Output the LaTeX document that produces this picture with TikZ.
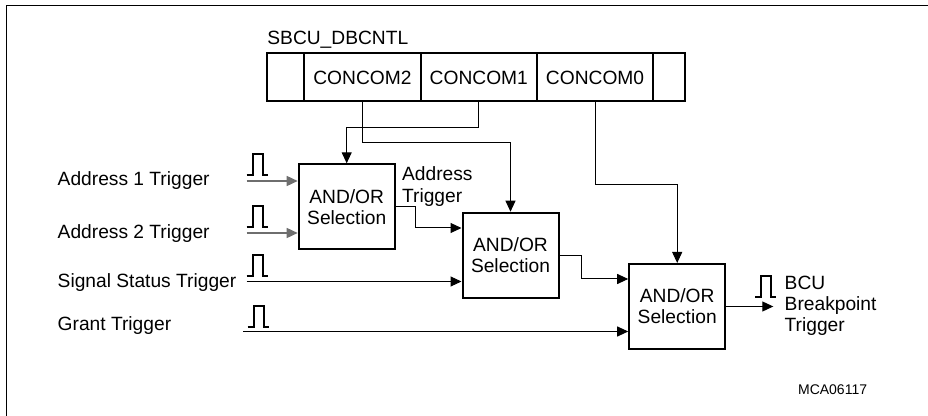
\documentclass[tikz,border=0pt]{standalone}
\usepackage{fontspec}
\setmainfont{Liberation Sans}
\usepackage{xcolor}
\usetikzlibrary{arrows.meta,positioning}
\definecolor{wiregray}{HTML}{6E6E6E}

\begin{document}
\begin{tikzpicture}[
        x=0.5pt, y=-0.5pt,
        font=\fontsize{9.6}{10.5}\selectfont,
        field/.style={
          draw,
          line width=1pt,
          inner sep=0pt,
          outer sep=0pt,
          minimum height=24pt
        },
        selbox/.style={
          draw,
          line width=1pt,
          minimum width=48pt,
          minimum height=42.5pt,
          inner sep=0pt,
          align=center
        },
        sig/.style={anchor=base west, inner sep=0pt, align=left},
        wire/.style={line width=0.5pt},
        arrow/.style={
          -{Triangle[length=5.5pt,width=5pt]},
          wire
        },
        pulse/.pic={
          \draw[line width=1pt] (0,0) -- (6,0) -- (6,-21) -- (16,-21) -- (16,0) -- (21,0);
        }
      ]

      \useasboundingbox (0,0) rectangle (928,416);
      \draw[line width=0.75pt] (928,5.3) -- (6.7,5.3) -- (6.7,416);

      % register
      \node[sig] (reglbl) at (267,45) {SBCU\_DBCNTL};
      \node[field, minimum width=18.65pt] (rlo) at (285.3,77.4) {};
      \node[field, minimum width=58.5pt, right=0pt of rlo] (cc2) {CONCOM2};
      \node[field, minimum width=57.85pt, right=0pt of cc2] (cc1) {CONCOM1};
      \node[field, minimum width=58.4pt, right=0pt of cc1] (cc0) {CONCOM0};
      \node[field, minimum width=15.75pt, right=0pt of cc0] (rhi) {};

      % selection blocks
      \node[selbox] (b1) at (346.7,206.8) {AND/OR\\Selection};
      \node[selbox] (b2) at (510.5,255.2) {AND/OR\\Selection};
      \node[selbox] (b3) at (677.2,306.5) {AND/OR\\Selection};

      % inputs
      \node[sig] (lbla1) at (57.3,185.7) {Address 1 Trigger};
      \node[sig] (lbla2) at (57.3,239) {Address 2 Trigger};
      \node[sig] (lblss) at (57.3,287.7) {Signal Status Trigger};
      \node[sig] (lblgr) at (57.3,330.7) {Grant Trigger};
      % base of a multi-line node = last line
      \node[sig, font=\fontsize{9.6}{11}\selectfont] (lbladdr) at (401.7,202.5) {Address\\Trigger};
      \node[sig] (lblbcu) at (784.3,332) {BCU\\Breakpoint\\Trigger};
      \node[sig, font=\fontsize{7}{8}\selectfont] (figid) at (797.7,395) {MCA06117};

      \coordinate (in1) at (246.7,181);
      \coordinate (in2) at (246.7,233);
      \coordinate (in3) at (246.7,281.5);
      \coordinate (in4) at (243,331.5);
      \coordinate (k1) at (0,127.7);
      \coordinate (k2) at (0,143);
      \coordinate (k0) at (0,185);
      \coordinate (a2) at (0,228);
      \coordinate (a3) at (0,279);
      \coordinate (out) at (773.3,306.5);

      \pic at (246.7,175) {pulse};
      \pic at (246.7,227) {pulse};
      \pic at (246.7,276) {pulse};
      \pic at (247.7,326.7) {pulse};
      \pic at (755,297.3) {pulse};

      % connectors
      \draw[arrow, wiregray, line width=0.75pt] (in1) -- (in1 -| b1.west);
      \draw[arrow, wiregray, line width=0.75pt] (in2) -- (in2 -| b1.west);
      \draw[arrow] (in3) -- (in3 -| b2.west);
      \draw[arrow] (in4) -- (in4 -| b3.west);

      \draw[arrow] (cc1.south) |- (b1.north |- k1) -- (b1.north);
      \draw[arrow] (cc2.south) |- (b2.north |- k2) -- (b2.north);
      \draw[arrow] (cc0.south) |- (b3.north |- k0) -- (b3.north);

      \draw[arrow] (b1.east) -- ++(20,0) |- (b2.west |- a2);
      \draw[arrow] (b2.east) -- ++(22,0) |- (b3.west |- a3);
      \draw[arrow] (b3.east) -- (out);

      \end{tikzpicture}
\end{document}
